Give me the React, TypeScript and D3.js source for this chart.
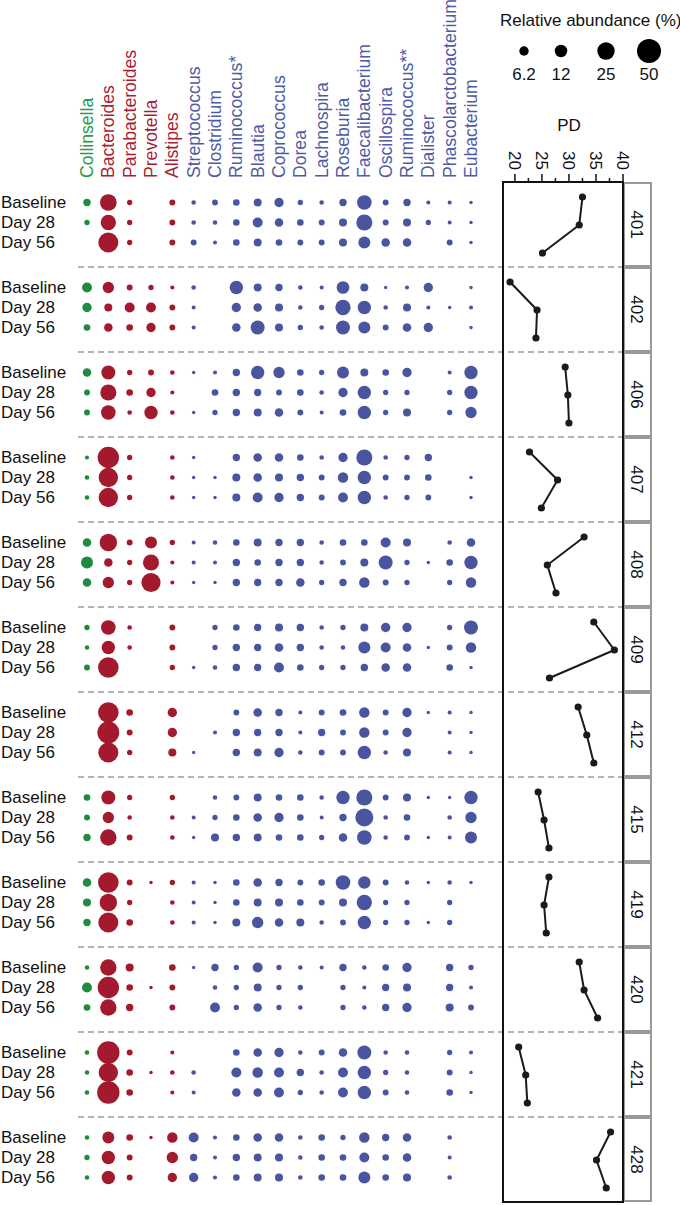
import React from 'react';
import * as d3 from 'd3';

// genera (columns) and the phylum each one belongs to
const genera = [
  'Collinsella', 'Bacteroides', 'Parabacteroides', 'Prevotella', 'Alistipes',
  'Streptococcus', 'Clostridium', 'Ruminococcus*', 'Blautia', 'Coprococcus',
  'Dorea', 'Lachnospira', 'Roseburia', 'Faecalibacterium', 'Oscillospira',
  'Ruminococcus**', 'Dialister', 'Phascolarctobacterium', 'Eubacterium'
];
const phyla = [
  'Actinobacteria', 'Bacteroidetes', 'Bacteroidetes', 'Bacteroidetes', 'Bacteroidetes',
  'Firmicutes', 'Firmicutes', 'Firmicutes', 'Firmicutes', 'Firmicutes',
  'Firmicutes', 'Firmicutes', 'Firmicutes', 'Firmicutes', 'Firmicutes',
  'Firmicutes', 'Firmicutes', 'Firmicutes', 'Firmicutes'
];
const subjects = ['401', '402', '406', '407', '408', '409', '412', '415', '419', '420', '421', '428'];
const timepoints = ['Baseline', 'Day 28', 'Day 56'];
const pdTicks = [20, 25, 30, 35, 40];
const pdMinorTicks = [22.5, 27.5, 32.5, 37.5];
const legendValues = [6.2, 12, 25, 50];

// relative abundance (%), one row per time point, one value per genus
const ab401 = [
  [3.5, 22.7, 1.5, 0, 2, 1, 2, 2.7, 4.3, 6.2, 1.5, 1, 3.5, 17, 2, 3.5, 0.7, 0.7, 0.4],
  [1.5, 19, 1.5, 0, 2, 1, 1, 2.7, 7.2, 5, 2.7, 2, 4.3, 21, 2, 4.3, 1.5, 0.7, 0.4],
  [0, 34, 1.5, 0, 2, 2, 0.7, 2.7, 4.3, 2.7, 2, 2, 4.3, 11, 5, 5, 0, 2, 0.4]
];
const ab402 = [
  [7.2, 9.7, 2, 1.5, 0.7, 1, 0, 14, 4.3, 3.5, 1, 0.7, 12.5, 4.3, 0.4, 0.7, 6.2, 0, 0.4],
  [6.2, 4.3, 7.2, 7.2, 2, 0.7, 0, 6.2, 5, 4.3, 1, 1.5, 19, 14, 1, 4.3, 0.7, 0.4, 0.7],
  [2.7, 5, 2.7, 6.2, 2, 0.7, 0, 5, 15.5, 4.3, 1.5, 1, 15.5, 11, 2, 5, 6.2, 0, 0.4]
];
const ab406 = [
  [5, 15.5, 1.5, 2, 1, 0.4, 0.7, 3.5, 14, 9.7, 2.7, 1.5, 11, 4.3, 2.7, 6.2, 0, 0.7, 14],
  [2, 21, 2.7, 6.2, 0.7, 0, 2.7, 3.5, 3.5, 2, 2.7, 1, 6.2, 14, 1.5, 1.5, 0, 1.5, 14],
  [2, 17, 1, 14, 1, 0.4, 1.5, 3.5, 4.3, 5, 2, 0.7, 2.7, 14, 1.5, 4.3, 0, 1.5, 9.7]
];
const ab407 = [
  [0.7, 39, 1.5, 0, 1, 0.4, 0, 3.5, 5, 5, 2.7, 1, 6.2, 21, 1, 1.5, 3.5, 0, 0],
  [1, 31.6, 1.5, 0, 1, 0.4, 0.4, 4.3, 5, 4.3, 3.5, 2, 8, 14, 2, 2, 2.7, 0, 0.4],
  [1, 31.6, 1.5, 0, 1, 0.4, 0.4, 4.3, 7.2, 6.2, 3.5, 2, 7.2, 14, 1, 1.5, 2, 0, 0.4]
];
const ab408 = [
  [5, 25, 2, 11, 1.5, 0.7, 1, 2.7, 4.3, 3.5, 3.5, 1, 2.7, 2.7, 7.2, 4.3, 0, 1, 5],
  [11, 5, 1.5, 21, 0.7, 0.7, 0.7, 3.5, 2.7, 3.5, 3.5, 1, 2, 4.3, 15.5, 1.5, 0.4, 2.7, 14],
  [5, 9.7, 1.5, 31, 0.7, 0.4, 0.4, 3.5, 3.5, 3.5, 5, 1.5, 3.5, 8, 2, 1.5, 0, 1.5, 8]
];
const ab409 = [
  [1.5, 17, 1, 0, 2, 0, 1.5, 2.7, 3.5, 4.3, 3.5, 1, 1.5, 4.3, 6.2, 6.2, 0, 1.5, 15.5],
  [1, 14, 1, 0, 2, 0, 1.5, 3.5, 3.5, 5, 3.5, 1, 1, 11, 7.2, 5, 0.4, 2, 8],
  [2, 36, 0, 0, 1.5, 0.4, 1, 3.5, 3.5, 7.2, 2.7, 1.5, 1.5, 3.5, 5, 5, 0, 2.7, 0.4]
];
const ab412 = [
  [0, 36, 2.7, 0, 6.2, 0, 0, 2, 5, 3.5, 0.7, 2, 2.7, 8, 2, 6.2, 0.4, 0.7, 0.4],
  [0, 41, 2, 0, 6.2, 0, 0.7, 3.5, 3.5, 3.5, 0.7, 3.5, 2, 8, 2, 6.2, 0, 0.7, 0.4],
  [0, 34, 1.5, 0, 4.3, 0.4, 0, 3.5, 4.3, 6.2, 1, 2, 2, 14, 1, 4.3, 0, 0.7, 0.4]
];
const ab415 = [
  [2.7, 15.5, 1.5, 0, 1.5, 0, 1, 2, 4.3, 2.7, 2.7, 1, 14, 21, 2, 4.3, 0.4, 0.4, 14],
  [2, 9.7, 1, 0, 1, 0.7, 1.5, 2.7, 5, 6.2, 2.7, 0.7, 3.5, 27, 1, 2.7, 0, 1, 9.7],
  [3.5, 22, 2, 0, 1, 0.4, 4.3, 3.5, 4.3, 2.7, 2.7, 1.5, 5, 17, 1, 2, 0.4, 0.7, 11]
];
const ab419 = [
  [5, 36, 2, 0.4, 1.5, 0.7, 0.4, 2.7, 5, 3.5, 2, 2.7, 17, 12, 2, 1, 0.4, 1, 0.4],
  [4.3, 25, 1.5, 0, 1, 0.7, 0.4, 2.7, 4.3, 4.3, 2.7, 2, 4.3, 19, 1.5, 1.5, 0, 1.5, 0],
  [3.5, 34, 2.7, 0, 1, 0.7, 0.4, 4.3, 9.7, 5, 4.3, 1, 2, 14, 1.5, 1.5, 0.4, 1.5, 0]
];
const ab420 = [
  [1, 22, 4.3, 0, 2.7, 0.4, 3.5, 1.5, 7.2, 1.5, 1, 0.7, 3.5, 1, 2.7, 6.2, 0, 3.5, 1.5],
  [7.2, 39, 2.7, 0.4, 2, 0, 1, 1.5, 4.3, 1.5, 1.5, 0, 1.5, 0.7, 3.5, 4.3, 0, 3.5, 0.7],
  [2.7, 22, 3.5, 0, 2, 0, 7.2, 1.5, 5, 1.5, 1, 0, 1.5, 1, 3.5, 6.2, 0, 4.3, 2]
];
const ab421 = [
  [1, 43, 2, 0, 0.7, 0, 0, 2.7, 5, 6.2, 1, 2, 5, 15.5, 1, 1, 0, 1.5, 0.7],
  [1, 31.6, 2.7, 0.4, 1, 1, 0, 7.2, 8, 7.2, 3.5, 1, 7.2, 14, 1.5, 1, 0, 2, 0.4],
  [1, 43, 2.7, 0, 0.7, 0.7, 0, 5, 5, 7.2, 1.5, 1, 7.2, 14, 2, 1, 0, 2.7, 0.4]
];
const ab428 = [
  [1, 11, 2.7, 0.4, 8, 7.2, 0.7, 2.7, 5, 5, 1, 2.7, 1.5, 8, 3.5, 5, 0, 1, 0],
  [1.5, 14, 2, 0, 9.7, 3.5, 0.7, 3.5, 4.3, 4.3, 1, 2.7, 2.7, 7.2, 2.7, 5, 0, 0.7, 0],
  [1, 14, 2, 0, 6.2, 6.2, 0.7, 2.7, 4.3, 4.3, 1, 2.7, 2.7, 11, 2.7, 4.3, 0, 1, 0]
];

// phylogenetic diversity per subject (Baseline, Day 28, Day 56)
const pd401 = [32.5, 31.9, 25.1];
const pd402 = [19.1, 24.1, 23.9];
const pd406 = [29.3, 29.8, 30.0];
const pd407 = [22.7, 27.9, 24.9];
const pd408 = [32.8, 26.0, 27.6];
const pd409 = [34.6, 38.4, 26.4];
const pd412 = [31.7, 33.3, 34.6];
const pd415 = [24.3, 25.4, 26.3];
const pd419 = [26.3, 25.4, 25.8];
const pd420 = [31.9, 32.8, 35.3];
const pd421 = [20.7, 22.0, 22.3];
const pd428 = [37.7, 35.1, 36.9];

const abundance = [ab401, ab402, ab406, ab407, ab408, ab409, ab412, ab415, ab419, ab420, ab421, ab428];
const pdValues = [pd401, pd402, pd406, pd407, pd408, pd409, pd412, pd415, pd419, pd420, pd421, pd428];

const dotColor = { Actinobacteria: '#1f8b3f', Bacteroidetes: '#a3192d', Firmicutes: '#4a55a0' };
const textColor = { Actinobacteria: '#2a9a4a', Bacteroidetes: '#a81d31', Firmicutes: '#4f5ba6' };

const font = 'Liberation Sans, Arial, Helvetica, sans-serif';

const App = () => {
  const width = 680;
  const height = 1205;

  const x = d3.scalePoint().domain(genera).range([87, 471]);
  const group = d3.scaleBand().domain(subjects).range([182, 1202]);
  const row = d3.scalePoint().domain(timepoints).range([20.5, 60.5]);
  const pdRow = d3.scalePoint().domain(timepoints).range([15, 71]);
  const pdX = d3.scaleLinear().domain([17.8, 40]).range([503, 623]);
  const r = d3.scaleSqrt().domain([0, 50]).range([0.7, 12]);
  const line = d3.line();

  const panelTop = 182;
  const panelBottom = 1202;
  const boxLeft = 623;
  const boxRight = 652;

  return (
    <svg width={width} height={height} style={{ position: 'absolute', left: 0, top: 0, fontFamily: font }}>
      <rect width={width} height={height} fill="#fff" />

      {/* column labels */}
      {genera.map((g, i) => (
        <text key={g} x={x(g)} y={178} dy="0.35em" fontSize={17.6}
          fill={textColor[phyla[i]]} transform={`rotate(-90,${x(g)},178)`}>
          {g}
        </text>
      ))}

      {/* legend */}
      <text x={500} y={26} fontSize={17} fill="#111">Relative abundance (%)</text>
      {legendValues.map((v, i) => {
        const cx = [524, 561, 606, 649][i];
        return (
          <g key={v}>
            <circle cx={cx} cy={51} r={r(v)} fill="#000" />
            <text x={cx} y={80} fontSize={17} textAnchor="middle" fill="#111">{v}</text>
          </g>
        );
      })}

      {/* PD axis */}
      <text x={569} y={131} fontSize={17} textAnchor="middle" fill="#111">PD</text>
      {pdTicks.map(t => (
        <g key={t}>
          <line x1={pdX(t)} x2={pdX(t)} y1={panelTop} y2={panelTop - 8} stroke="#111" strokeWidth={1.5} />
          <text x={pdX(t)} y={170} dy="0.35em" fontSize={17} textAnchor="end" fill="#111"
            transform={`rotate(90,${pdX(t)},170)`}>{t}</text>
        </g>
      ))}
      {pdMinorTicks.map(t => (
        <line key={t} x1={pdX(t)} x2={pdX(t)} y1={panelTop} y2={panelTop - 4} stroke="#111" strokeWidth={1.5} />
      ))}

      {/* group separators */}
      {subjects.slice(1).map(s => (
        <line key={s} x1={78} x2={boxLeft} y1={group(s)} y2={group(s)}
          stroke="#9a9a9a" strokeWidth={1.6} strokeDasharray="6,4" />
      ))}

      {/* subject boxes */}
      {subjects.map(s => (
        <g key={s}>
          <rect x={boxLeft + 1} y={group(s) + 1} width={boxRight - boxLeft - 2} height={group.bandwidth() - 2}
            fill="none" stroke="#9a9a9a" strokeWidth={2} />
          <text x={637} y={group(s) + group.bandwidth() / 2} dy="0.35em" fontSize={17} textAnchor="middle"
            fill="#111" transform={`rotate(90,637,${group(s) + group.bandwidth() / 2})`}>{s}</text>
        </g>
      ))}

      {/* PD panel frame */}
      <rect x={pdX.range()[0]} y={panelTop} width={pdX.range()[1] - pdX.range()[0]} height={panelBottom - panelTop}
        fill="none" stroke="#111" strokeWidth={2} />

      {/* rows: labels, bubbles, PD lines */}
      {subjects.map((s, si) => {
        const top = group(s);
        const pts = pdValues[si].map((v, j) => [pdX(v), top + pdRow(timepoints[j])]);
        return (
          <g key={s}>
            {timepoints.map((tp, ti) => (
              <g key={tp}>
                <text x={1} y={top + row(tp)} dy="0.35em" fontSize={17} fill="#111">{tp}</text>
                {abundance[si][ti].map((v, gi) => v > 0 && (
                  <circle key={gi} cx={x(genera[gi])} cy={top + row(tp)} r={r(v)} fill={dotColor[phyla[gi]]} />
                ))}
              </g>
            ))}
            <path d={line(pts)} fill="none" stroke="#1a1a1a" strokeWidth={2} />
            {pts.map((p, j) => (
              <circle key={j} cx={p[0]} cy={p[1]} r={3.6} fill="#1a1a1a" />
            ))}
          </g>
        );
      })}
    </svg>
  );
};

export default App;
